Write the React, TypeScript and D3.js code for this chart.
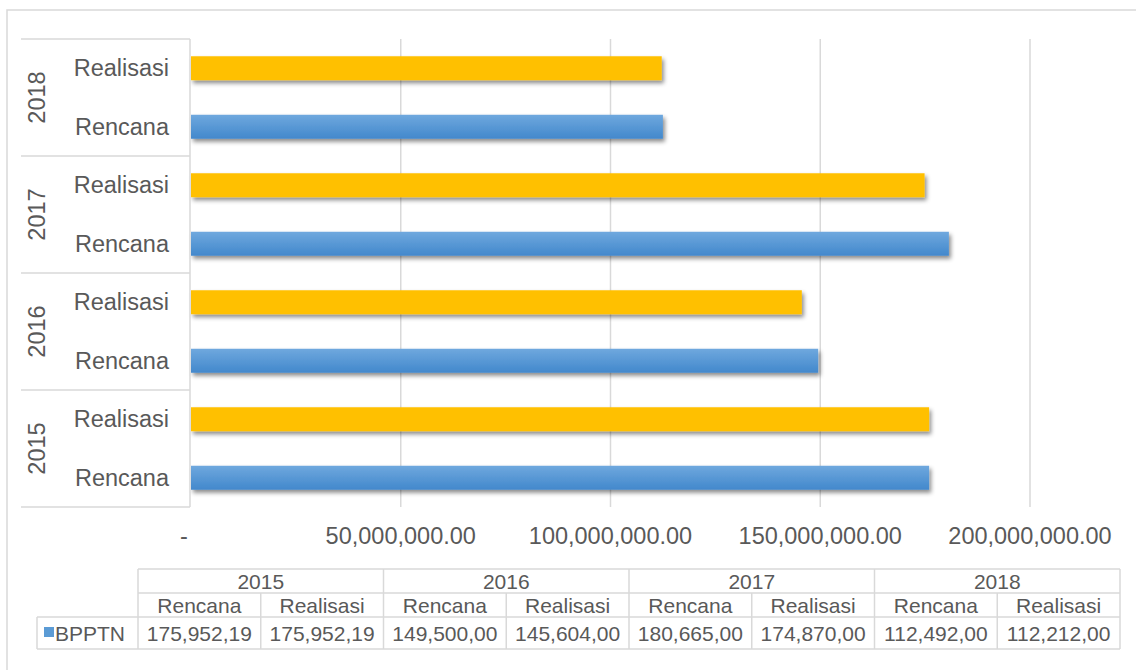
import React from "react";
import * as d3 from "d3";

const years = ["2015", "2016", "2017", "2018"];
const subCats = ["Rencana", "Realisasi"];
const rencana = [175952190, 149500000, 180665000, 112492000];
const realisasi = [175952190, 145604000, 174870000, 112212000];
const xTicks = [0, 50000000, 100000000, 150000000, 200000000];
const tableRencana = ["175,952,19", "149,500,00", "180,665,00", "112,492,00"];
const tableRealisasi = ["175,952,19", "145,604,00", "174,870,00", "112,212,00"];
const seriesName = "BPPTN";

const W = 1136;
const H = 670;
const TXT = "#595959";
const GRID = "#d9d9d9";
const FONT = "'Liberation Sans', Arial, sans-serif";

type Row = { key: string; year: string; sub: string; value: number; yi: number };

export default function App() {
  const rows: Row[] = [];
  years.forEach((y, i) => {
    rows.push({ key: y + "|Rencana", year: y, sub: "Rencana", value: rencana[i], yi: i });
    rows.push({ key: y + "|Realisasi", year: y, sub: "Realisasi", value: realisasi[i], yi: i });
  });

  const plotTop = 39;
  const plotBottom = 507;
  const x = d3.scaleLinear().domain([0, 200000000]).range([191, 1030]);
  const y = d3
    .scaleBand<string>()
    .domain(rows.map((r) => r.key).reverse())
    .range([plotTop, plotBottom])
    .paddingInner(0.59)
    .paddingOuter(0.295);
  const yearBand = d3
    .scaleBand<string>()
    .domain([...years].reverse())
    .range([plotTop, plotBottom]);

  const fmt = (v: number) => (v === 0 ? "-" : d3.format(",.2f")(v));

  // table geometry
  const tLeft = 37;
  const tColStart = 138;
  const tColW = (1120 - 138) / 8;
  const rY = [569, 593, 617, 649];
  const tableCols: { label: string; val: string; year: string }[] = [];
  years.forEach((yy, i) => {
    tableCols.push({ label: subCats[0], val: tableRencana[i], year: yy });
    tableCols.push({ label: subCats[1], val: tableRealisasi[i], year: yy });
  });

  return (
    <div style={{ position: "absolute", left: 0, top: 0 }}>
      <svg width={W} height={H} style={{ display: "block", fontFamily: FONT }}>
        <defs>
          <linearGradient id="blueGrad" x1="0" y1="0" x2="0" y2="1">
            <stop offset="0" stopColor="#6fa8de" />
            <stop offset="1" stopColor="#4288cc" />
          </linearGradient>
          <filter id="shadow" x="-5%" y="-50%" width="110%" height="250%">
            <feDropShadow dx="2" dy="3" stdDeviation="2.2" floodColor="#000" floodOpacity="0.45" />
          </filter>
        </defs>
        <rect x={0} y={0} width={W} height={H} fill="#fff" />
        {/* outer frame */}
        <rect x={7} y={10} width={W + 20} height={H + 20} fill="none" stroke={GRID} strokeWidth={1.5} />

        {/* gridlines */}
        {xTicks.slice(1).map((t) => (
          <line key={t} x1={x(t)} x2={x(t)} y1={plotTop} y2={plotBottom} stroke={GRID} strokeWidth={1.5} />
        ))}

        {/* bars */}
        {rows.map((r) => (
          <rect
            key={r.key}
            x={x(0)}
            y={y(r.key)}
            width={x(r.value) - x(0)}
            height={y.bandwidth()}
            fill={r.sub === "Rencana" ? "url(#blueGrad)" : "#ffc000"}
            filter="url(#shadow)"
          />
        ))}

        {/* category axis box */}
        <line x1={x(0) - 1} x2={x(0) - 1} y1={plotTop} y2={plotBottom} stroke={GRID} strokeWidth={1.5} />
        {[...years.map((yy) => yearBand(yy) as number), plotBottom].map((yy, i) => (
          <line key={i} x1={21} x2={x(0) - 1} y1={yy} y2={yy} stroke={GRID} strokeWidth={1.5} />
        ))}
        {rows.map((r) => (
          <text
            key={r.key}
            x={169}
            y={(y(r.key) as number) + y.bandwidth() / 2}
            dy="0.35em"
            textAnchor="end"
            fontSize={23.5}
            fill={TXT}
          >
            {r.sub}
          </text>
        ))}
        {years.map((yy) => {
          const cy = (yearBand(yy) as number) + yearBand.bandwidth() / 2;
          return (
            <text
              key={yy}
              transform={`translate(37,${cy}) rotate(-90)`}
              dy="0.35em"
              textAnchor="middle"
              fontSize={23.5}
              fill={TXT}
            >
              {yy}
            </text>
          );
        })}

        {/* value axis labels */}
        {xTicks.map((t) => (
          <text
            key={t}
            x={t === 0 ? x(t) - 7 : x(t)}
            y={544}
            textAnchor="middle"
            fontSize={23.5}
            fill={TXT}
          >
            {fmt(t)}
          </text>
        ))}

        {/* data table */}
        <g stroke={GRID} strokeWidth={1.5}>
          <line x1={tColStart} x2={1120} y1={rY[0]} y2={rY[0]} />
          <line x1={tColStart} x2={1120} y1={rY[1]} y2={rY[1]} />
          <line x1={tLeft} x2={1120} y1={rY[2]} y2={rY[2]} />
          <line x1={tLeft} x2={1120} y1={rY[3]} y2={rY[3]} />
          <line x1={tLeft} x2={tLeft} y1={rY[2]} y2={rY[3]} />
          {d3.range(9).map((k) => (
            <line
              key={k}
              x1={tColStart + k * tColW}
              x2={tColStart + k * tColW}
              y1={k % 2 === 0 ? rY[0] : rY[1]}
              y2={rY[3]}
            />
          ))}
        </g>
        {years.map((yy, i) => (
          <text
            key={yy}
            x={tColStart + (2 * i + 1) * tColW}
            y={589}
            textAnchor="middle"
            fontSize={21}
            fill={TXT}
          >
            {yy}
          </text>
        ))}
        {tableCols.map((c, k) => (
          <g key={k}>
            <text x={tColStart + (k + 0.5) * tColW} y={613} textAnchor="middle" fontSize={21} fill={TXT}>
              {c.label}
            </text>
            <text x={tColStart + (k + 0.5) * tColW} y={641} textAnchor="middle" fontSize={21} fill={TXT}>
              {c.val}
            </text>
          </g>
        ))}
        <rect x={44} y={627} width={10} height={10} fill="#5b9bd5" />
        <text x={55} y={641} fontSize={21} fill={TXT}>
          {seriesName}
        </text>
      </svg>
    </div>
  );
}
